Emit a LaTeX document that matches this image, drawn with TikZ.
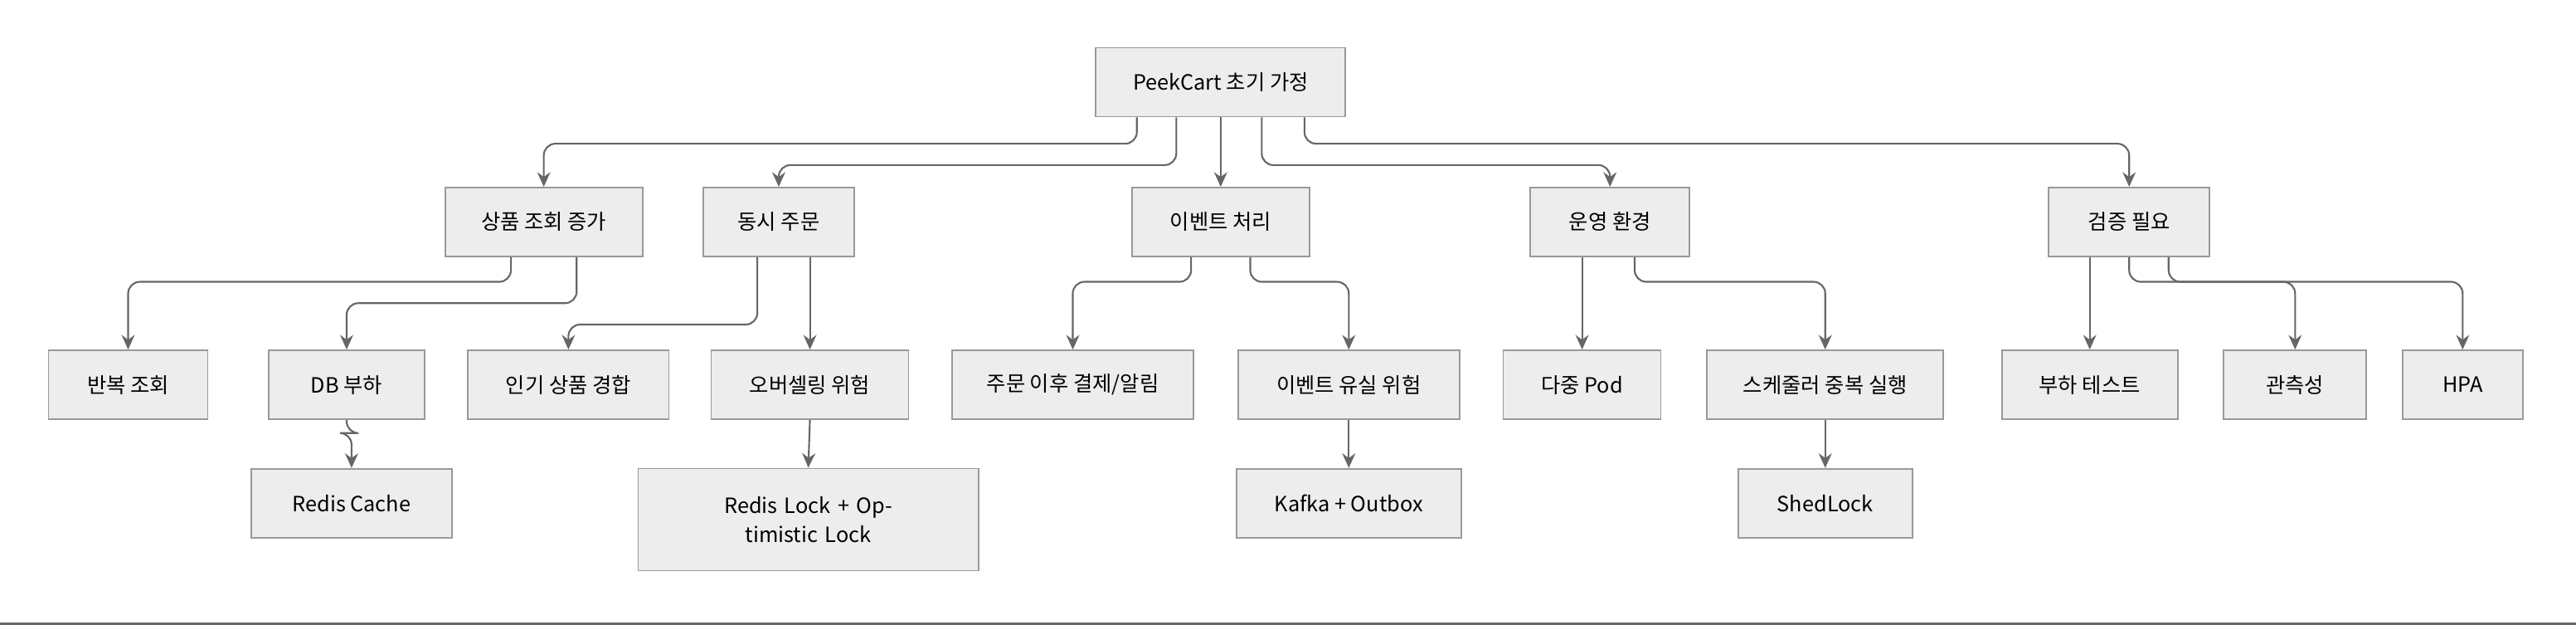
\documentclass[tikz,border=0pt]{standalone}
\usepackage{fontspec}
\setmainfont{Noto Sans CJK KR}
\usetikzlibrary{calc,arrows.meta}

\begin{document}
\begin{tikzpicture}[x=0.0198cm, y=-0.0198cm, font=\fontsize{7.2pt}{10pt}\selectfont]
\tikzstyle{box}=[draw=black!40, fill=black!7, line width=0.5pt, minimum height=0.83cm, inner xsep=0pt, align=center]
\tikzstyle{edge}=[draw=black!60, line width=0.6pt, rounded corners=4pt, -{Stealth[length=5pt,width=4.5pt]}]
\useasboundingbox (0,0) rectangle (1568,380);
\fill[black!60] (0,378.5) rectangle (1568,380);
% root
\node[box, minimum width=3.01cm] (root) at (743,50) {PeekCart 초기 가정};
% first level
\node[box, minimum width=2.38cm] (view)  at (331,135) {상품 조회 증가};
\node[box, minimum width=1.82cm] (order) at (474,135) {동시 주문};
\node[box, minimum width=2.14cm] (event) at (743,135) {이벤트 처리};
\node[box, minimum width=1.92cm] (ops)   at (980,135) {운영 환경};
\node[box, minimum width=1.94cm] (check) at (1296,135) {검증 필요};
% second level
\node[box, minimum width=1.92cm] (repeat)  at (78,234)   {반복 조회};
\node[box, minimum width=1.88cm] (dbload)  at (211,234)  {DB 부하};
\node[box, minimum width=2.42cm] (hot)     at (346,234)  {인기 상품 경합};
\node[box, minimum width=2.38cm] (oversell) at (493,234) {오버셀링 위험};
\node[box, minimum width=2.91cm] (after)   at (653,234)  {주문 이후 결제/알림};
\node[box, minimum width=2.67cm] (loss)    at (821,234)  {이벤트 유실 위험};
\node[box, minimum width=1.90cm] (pods)    at (963,234)  {다중 Pod};
\node[box, minimum width=2.85cm] (sched)   at (1111,234) {스케줄러 중복 실행};
\node[box, minimum width=2.12cm] (load)    at (1272,234) {부하 테스트};
\node[box, minimum width=1.72cm] (observe) at (1397,234) {관측성};
\node[box, minimum width=1.45cm] (hpa)     at (1499,234) {HPA};
% third level
\node[box, minimum width=2.42cm] (cache)  at (214,306) {Redis Cache};
\node[box, minimum width=4.10cm, minimum height=1.23cm, text width=3.2cm] (lock) at (492,316) {Redis Lock + Optimistic Lock};
\node[box, minimum width=2.71cm] (kafka)  at (821,306) {Kafka + Outbox};
\node[box, minimum width=2.10cm] (shed)   at (1111,306) {ShedLock};
% root edges
\draw[edge] ($(root.south)+(-51,0)$) -- ++(0,16) -| (view.north);
\draw[edge] ($(root.south)+(-27,0)$) -- ++(0,29) -| (order.north);
\draw[edge] (root.south) -- (event.north);
\draw[edge] ($(root.south)+(25,0)$) -- ++(0,29) -| (ops.north);
\draw[edge] ($(root.south)+(51,0)$) -- ++(0,16) -| (check.north);
% second level edges
\draw[edge] ($(view.south)+(-20,0)$) -- ++(0,15) -| (repeat.north);
\draw[edge] ($(view.south)+(20,0)$) -- ++(0,28) -| (dbload.north);
\draw[edge] ($(order.south)+(-13,0)$) -- ++(0,41) -| (hot.north);
\draw[edge] ($(order.south)+(19,0)$) -- (oversell.north);
\draw[edge] ($(event.south)+(-18,0)$) -- ++(0,15) -| (after.north);
\draw[edge] ($(event.south)+(18,0)$) -- ++(0,15) -| (loss.north);
\draw[edge] ($(ops.south)+(-17,0)$) -- (pods.north);
\draw[edge] ($(ops.south)+(15,0)$) -- ++(0,15) -| (sched.north);
\draw[edge] ($(check.south)+(-24,0)$) -- (load.north);
\draw[edge] (check.south) -- ++(0,15) -| (observe.north);
\draw[edge] ($(check.south)+(24,0)$) -- ++(0,15) -| (hpa.north);
% third level edges
\draw[edge] (dbload.south) -- ++(0,8) -| (cache.north);
\draw[edge] (oversell.south) -- (lock.north);
\draw[edge] (loss.south) -- (kafka.north);
\draw[edge] (sched.south) -- (shed.north);
\end{tikzpicture}
\end{document}
